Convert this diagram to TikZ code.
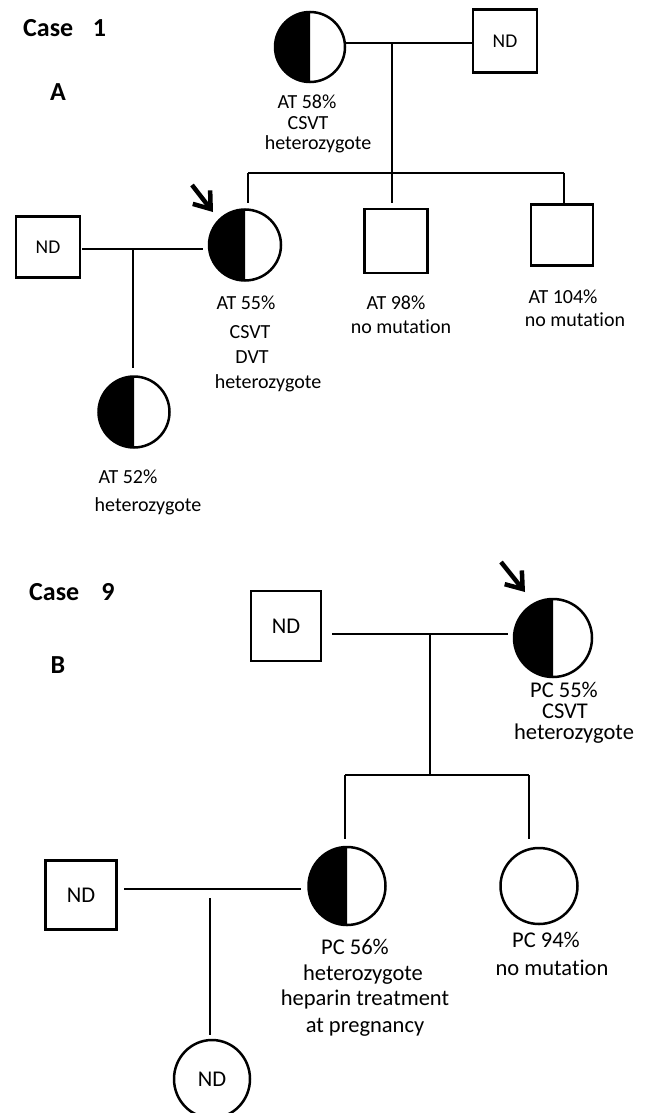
\documentclass[tikz,border=0pt]{standalone}
\usepackage{fontspec}
\setmainfont{Carlito}[Ligatures=NoCommon]
\usetikzlibrary{shapes.geometric,arrows.meta}
\newcommand\halffill[3]{\fill (#1.north) arc[start angle=90,end angle=270,x radius=#2,y radius=#3] -- cycle;}
\begin{document}
\begin{tikzpicture}[x=1pt,y=-1pt,
  lbl/.style={inner sep=0pt, text height=13pt, text depth=0pt, font=\fontsize{20}{24}\selectfont},
  lblb/.style={inner sep=0pt, text height=14.5pt, text depth=0pt, font=\fontsize{22.5}{26}\selectfont},
  sq/.style={draw, line width=2.5pt, rectangle, inner sep=0pt, outer sep=0pt, font=\fontsize{19.5}{22}\selectfont},
  circ/.style={draw, line width=2.5pt, ellipse, inner sep=0pt, outer sep=0pt, font=\fontsize{19.5}{22}\selectfont},
  big/.style={font=\fontsize{22.5}{26}\selectfont},
  conn/.style={line width=2.8pt},
  proband/.style={line width=4.5pt, -{Straight Barb[length=15pt,width=22pt]}},
  casetitle/.style={font=\fontsize{26}{30}\bfseries\selectfont, anchor=west, inner sep=0pt},
  panel/.style={font=\fontsize{26}{30}\bfseries\selectfont, inner sep=0pt}]

\useasboundingbox[fill=white] (0,0) rectangle (646,1113);

% ---------------- Case 1 ----------------
\node[casetitle] (case1) at (23,28) {Case\hspace{0.75em}1};
\node[panel] (pA) at (58,92) {A};

\node[circ, minimum width=70pt, minimum height=70pt] (m1) at (310,47) {};
\halffill{m1}{35pt}{35pt}
\node[sq, minimum width=64pt, minimum height=63pt] (f1) at (505,41) {ND};

\node[circ, minimum width=72pt, minimum height=71pt] (p1) at (245,245) {};
\halffill{p1}{36pt}{35.5pt}
\node[sq, minimum width=63pt, minimum height=64pt] (c2) at (396,241) {};
\node[sq, minimum width=62pt, minimum height=61pt] (c3) at (562,235) {};
\node[sq, minimum width=64pt, minimum height=61pt] (h1) at (48,247) {ND};
\node[circ, minimum width=71pt, minimum height=71pt] (g1) at (134,412) {};
\halffill{g1}{35.5pt}{35.5pt}

\coordinate (j1) at (392,43);
\coordinate (s1) at (392,173);
\coordinate (s1l) at (248,173);
\coordinate (s1r) at (564,173);
\coordinate (e1) at (248,203);
\coordinate (e2) at (392,203);
\coordinate (e3) at (564,203);
\coordinate (k1a) at (82,249);
\coordinate (k1b) at (203,249);
\coordinate (k1) at (133,249);
\coordinate (k1e) at (133,368);

\draw[conn] (m1.east |- j1) -- (f1.west |- j1);
\draw[conn] (j1) -- (s1);
\draw[conn] (s1l) -- (s1r);
\draw[conn] (s1l) -- (e1);
\draw[conn] (s1) -- (e2);
\draw[conn] (s1r) -- (e3);
\draw[conn] (k1a) -- (k1b);
\draw[conn] (k1) -- (k1e);

\coordinate (a1t) at (192,185);
\coordinate (a1h) at (213,212);
\draw[proband] (a1t) -- (a1h);

\node[lbl] (m1l1) at (307,102) {AT 58\%};
\node[lbl] (m1l2) at (308,123) {CSVT};
\node[lbl] (m1l3) at (318,143) {heterozygote};

\node[lbl] (p1l1) at (246,303) {AT 55\%};
\node[lbl] (p1l2) at (250,332) {CSVT};
\node[lbl] (p1l3) at (252,357) {DVT};
\node[lbl] (p1l4) at (268,382) {heterozygote};

\node[lbl] (c2l1) at (396,303) {AT 98\%};
\node[lbl] (c2l2) at (401,327) {no mutation};

\node[lbl] (c3l1) at (563,297) {AT 104\%};
\node[lbl] (c3l2) at (575,320) {no mutation};

\node[lbl] (g1l1) at (128,477) {AT 52\%};
\node[lbl] (g1l2) at (148,505) {heterozygote};

% ---------------- Case 9 ----------------
\node[casetitle] (case9) at (29,592) {Case\hspace{0.85em}9};
\node[panel] (pB) at (58,665) {B};

\node[sq, big, minimum width=70pt, minimum height=70pt] (f2) at (286,626) {ND};
\node[circ, minimum width=78pt, minimum height=78pt] (p2) at (553,638) {};
\halffill{p2}{39pt}{39pt}

\node[circ, minimum width=77pt, minimum height=78pt] (d1) at (347,886) {};
\halffill{d1}{38.5pt}{39pt}
\node[circ, minimum width=77pt, minimum height=76pt] (d2) at (539,886) {};
\node[sq, big, minimum width=71pt, minimum height=69pt] (h2) at (81,895) {ND};
\node[circ, big, minimum width=76pt, minimum height=78pt] (g2) at (212,1079) {ND};

\coordinate (j2a) at (332,634);
\coordinate (j2b) at (508,634);
\coordinate (j2) at (430,634);
\coordinate (s2) at (430,775);
\coordinate (s2l) at (345,775);
\coordinate (s2r) at (529,775);
\coordinate (e4) at (345,839);
\coordinate (e5) at (529,839);
\coordinate (k2a) at (124,889);
\coordinate (k2b) at (301,889);
\coordinate (k2) at (210,898);
\coordinate (k2e) at (210,1035);

\draw[conn] (j2a) -- (j2b);
\draw[conn] (j2) -- (s2);
\draw[conn] (s2l) -- (s2r);
\draw[conn] (s2l) -- (e4);
\draw[conn] (s2r) -- (e5);
\draw[conn] (k2a) -- (k2b);
\draw[conn] (k2) -- (k2e);

\coordinate (a2t) at (501,562);
\coordinate (a2h) at (525,592);
\draw[proband] (a2t) -- (a2h);

\node[lblb] (p2l1) at (564,690) {PC 55\%};
\node[lblb] (p2l2) at (565,711) {CSVT};
\node[lblb] (p2l3) at (574,732) {heterozygote};

\node[lblb] (d1l1) at (355,947) {PC 56\%};
\node[lblb] (d1l2) at (363,973) {heterozygote};
\node[lblb] (d1l3) at (365,998) {heparin treatment};
\node[lblb] (d1l4) at (365,1025) {at pregnancy};

\node[lblb] (d2l1) at (546,940) {PC 94\%};
\node[lblb] (d2l2) at (552,968) {no mutation};
\end{tikzpicture}
\end{document}
